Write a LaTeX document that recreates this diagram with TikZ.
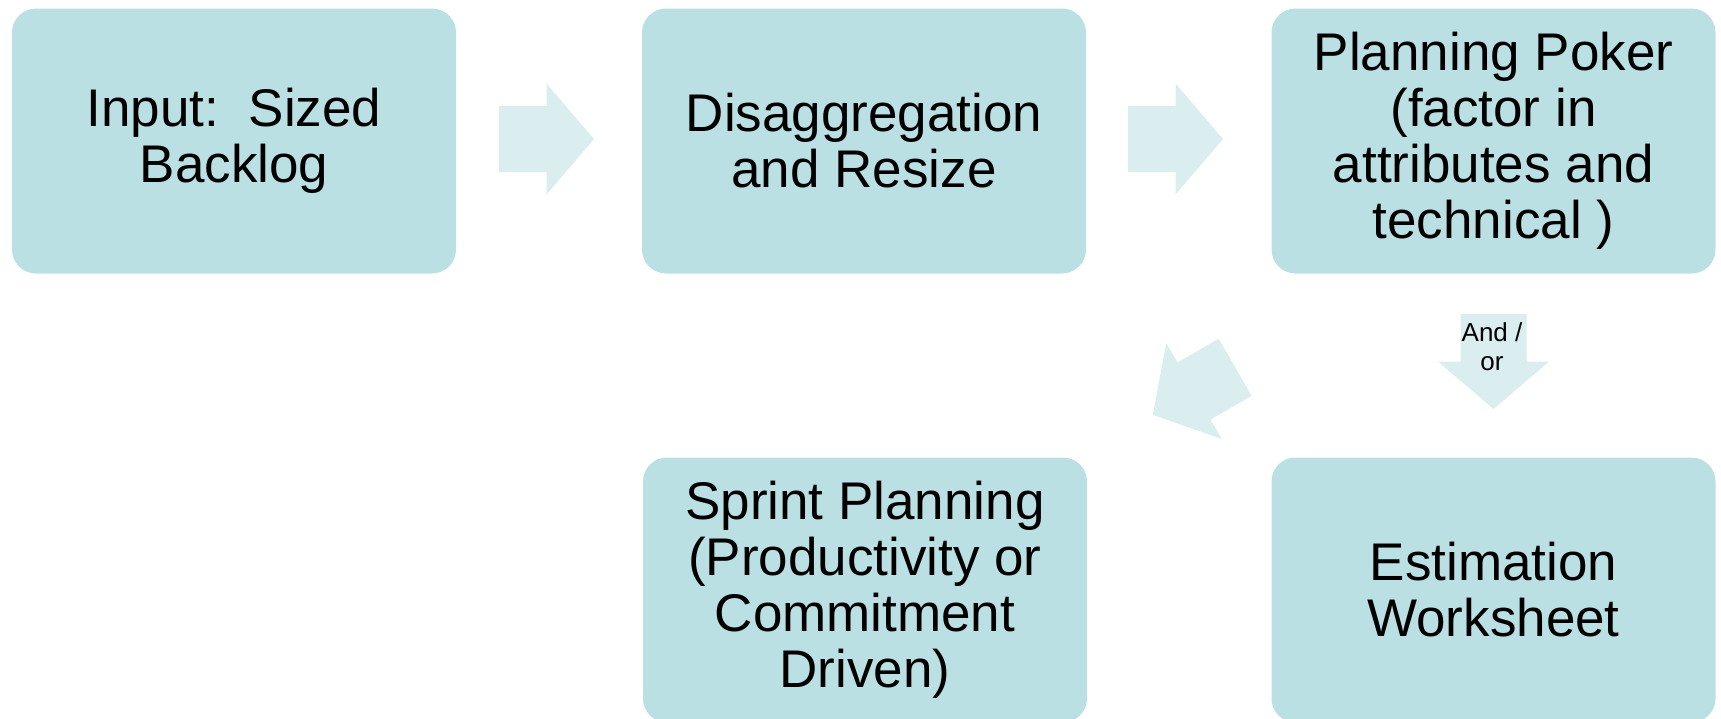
\documentclass[tikz,border=0pt]{standalone}
\usepackage{fontspec}
\setmainfont{Liberation Sans}
\definecolor{boxfill}{RGB}{187,224,227}
\definecolor{arrowfill}{RGB}{218,237,239}
\tikzset{
  stepbox/.style={rectangle, rounded corners=24pt, fill=boxfill, draw=none,
    minimum width=444pt, minimum height=265pt, inner sep=0pt, align=center,
    font=\fontsize{53}{56}\selectfont},
  pics/barrow/.style={code={
    \fill[arrowfill] (-47.5,-33) -- (0,-33) -- (0,-55.5) -- (47.5,0)
      -- (0,55.5) -- (0,33) -- (-47.5,33) -- cycle;}},
  smalltext/.style={align=center, inner sep=0pt, font=\fontsize{26}{29}\selectfont}
}
\begin{document}
\begin{tikzpicture}[x=1pt,y=-1pt]
\useasboundingbox (0,0) rectangle (1721,718);
\node[stepbox] (input) at (234,141) {Input:\ \ Sized\\Backlog};
\node[stepbox] (disagg) at (864,141) {Disaggregation\\and Resize};
\node[stepbox] (poker) at (1493.5,141) {Planning Poker\\(factor in\\attributes and\\technical )};
\node[stepbox] (sprint) at (865,590) {Sprint Planning\\(Productivity or\\Commitment\\Driven)};
\node[stepbox] (worksheet) at (1493.5,590) {Estimation\\Worksheet};
\pic at (546.5,139) {barrow};
\pic at (1175.5,139) {barrow};
\pic[rotate=-90] at (1493.5,361.5) {barrow};
\pic[rotate=210] at (1194,391) {barrow};
\node[smalltext] (andor) at (1492,347) {And /\\or};
\end{tikzpicture}
\end{document}
